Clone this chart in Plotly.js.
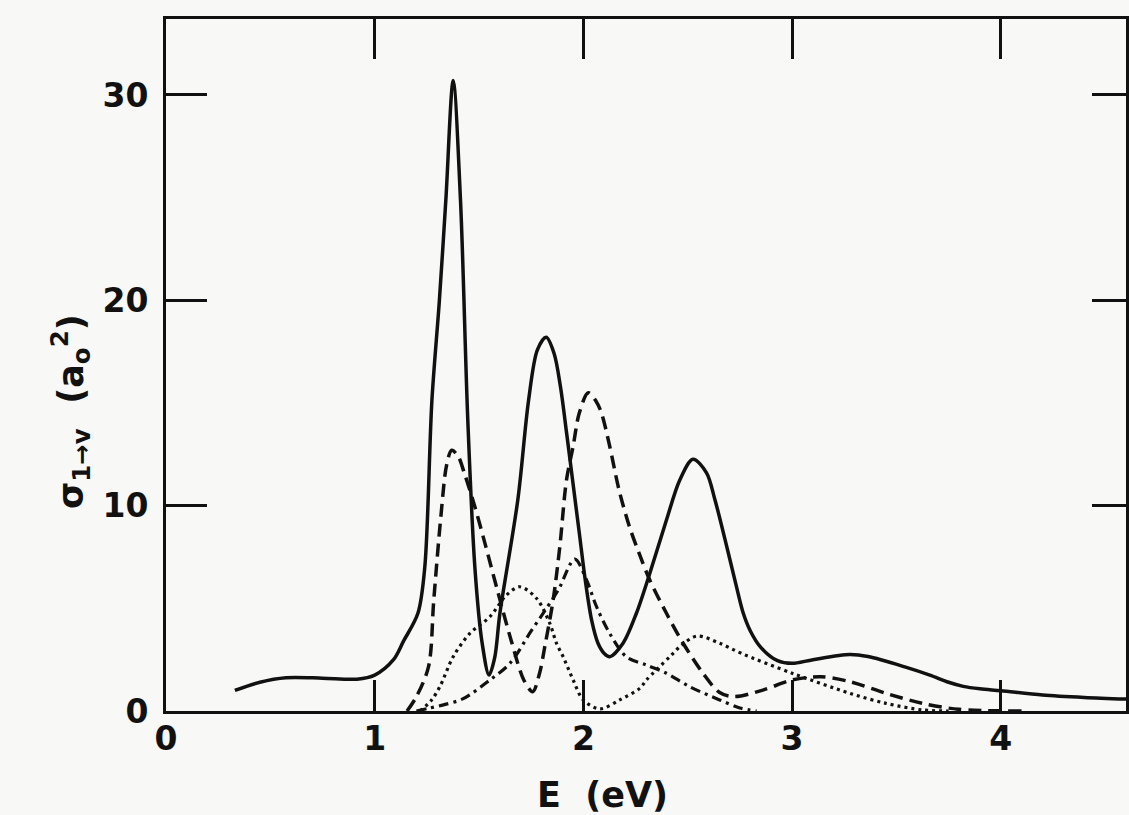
<!DOCTYPE html>
<html>
<head>
<meta charset="utf-8">
<script src="https://cdn.plot.ly/plotly-3.0.1.min.js"></script>
<style>html,body{margin:0;padding:0;background:#f8f8f6;}#chart{width:1129px;height:815px;}</style>
</head>
<body>
<div id="chart"></div>
<script>
// Energy (eV) and cross sections sigma_{1->v} (a0^2)
const solidE = [0.33,0.45,0.575,0.75,0.915,1.0,1.09,1.138,1.207,1.24,1.274,1.31,1.341,1.376,1.411,1.446,1.48,1.515,1.548,1.575,1.6,1.686,1.737,1.78,1.822,1.86,1.89,1.92,1.95,1.98,2.01,2.04,2.07,2.1,2.126,2.19,2.254,2.318,2.398,2.462,2.525,2.59,2.63,2.68,2.73,2.765,2.8,2.85,2.93,3.0,3.1,3.277,3.364,3.54,3.66,3.75,3.82,3.9,4.0,4.2,4.4,4.6];
const solidS = [1.0,1.4,1.62,1.6,1.55,1.75,2.5,3.4,4.76,7.0,15.1,20.0,24.9,30.7,24.9,14.2,7.0,3.3,1.75,2.6,4.76,10.3,15.1,17.6,18.2,17.4,15.8,13.5,11.1,8.7,6.3,4.4,3.3,2.8,2.64,3.3,4.76,6.7,9.3,11.25,12.26,11.6,10.3,8.3,6.2,4.8,3.9,3.1,2.45,2.32,2.5,2.75,2.65,2.15,1.75,1.4,1.2,1.08,0.99,0.78,0.66,0.58];

const dashE = [1.155,1.2,1.258,1.283,1.317,1.345,1.369,1.4,1.429,1.48,1.53,1.59,1.655,1.715,1.757,1.79,1.815,1.855,1.887,1.919,1.951,1.98,2.023,2.06,2.087,2.126,2.17,2.22,2.27,2.318,2.398,2.478,2.573,2.653,2.72,2.86,3.0,3.138,3.277,3.45,3.625,3.8,4.1];
const dashS = [0.0,0.7,2.16,5.4,9.46,12.0,12.7,12.4,11.6,9.95,8.1,5.8,3.4,1.5,0.94,1.84,3.13,5.4,8.0,11.25,12.9,14.5,15.5,15.1,14.5,12.9,10.8,9.0,7.6,6.38,4.76,3.3,1.84,0.9,0.7,1.02,1.51,1.67,1.43,0.86,0.37,0.08,0.0];

const dotE = [1.217,1.27,1.312,1.376,1.456,1.552,1.632,1.695,1.775,1.839,1.871,1.903,1.951,1.999,2.079,2.174,2.27,2.302,2.414,2.47,2.545,2.653,2.756,3.0,3.277,3.45,3.625,3.75];
const dotS = [0.0,0.5,1.18,2.64,3.78,4.59,5.65,6.05,5.49,4.27,3.3,2.64,1.51,0.54,0.1,0.54,1.1,1.51,2.64,3.2,3.65,3.3,2.81,1.84,0.86,0.37,0.05,0.0];

const dashDotE = [1.2,1.258,1.33,1.424,1.552,1.648,1.75,1.81,1.88,1.959,2.015,2.063,2.126,2.206,2.302,2.398,2.51,2.653,2.75,2.83];
const dashDotS = [0.0,0.13,0.3,0.6,1.51,2.32,3.9,4.8,5.9,7.4,6.38,5.08,3.78,2.64,2.24,1.84,1.18,0.54,0.15,0.0];

const xTicks = [0,1,2,3,4];
const yTicks = [0,10,20,30];

const FONT = 'DejaVu Sans, sans-serif';
const INK = '#111';
const line = (x, y, dash, w) => ({
  x: x, y: y, type: 'scatter', mode: 'lines', showlegend: false, hoverinfo: 'skip',
  line: {color: INK, width: w, dash: dash, shape: 'spline', smoothing: 0.9}
});

const traces = [
  line(solidE, solidS, 'solid', 3.5),
  line(dashE, dashS, '13px,7px', 3.5),
  line(dotE, dotS, '3px,4px', 3.2),
  line(dashDotE, dashDotS, '10px,5px,3px,5px', 3.2),
  {x: [], y: [], xaxis: 'x2', yaxis: 'y2', type: 'scatter', showlegend: false}
];

const axisCommon = {
  showgrid: false, zeroline: false, showline: true, linecolor: INK, linewidth: 3,
  ticks: 'inside', tickcolor: INK, tickwidth: 3
};

const tickFont = {size: 33, family: FONT, color: INK, weight: 'bold'};

const layout = {
  width: 1129, height: 815,
  margin: {l: 166, r: 3, t: 19, b: 104},
  paper_bgcolor: '#f8f8f6', plot_bgcolor: '#f8f8f6',
  font: {family: FONT, color: INK},
  xaxis: Object.assign({}, axisCommon, {
    range: [0, 4.6], tickmode: 'array', tickvals: xTicks, ticktext: xTicks.map(String),
    ticklen: 31, tickfont: tickFont, ticklabelstandoff: -4
  }),
  yaxis: Object.assign({}, axisCommon, {
    range: [0, 33.7], tickmode: 'array', tickvals: yTicks, ticktext: yTicks.map(String),
    ticklen: 41, tickfont: tickFont, ticklabelstandoff: 8
  }),
  xaxis2: Object.assign({}, axisCommon, {
    overlaying: 'x', side: 'top', anchor: 'y2', range: [0, 4.6],
    tickmode: 'array', tickvals: [1,2,3,4], ticklen: 40, showticklabels: false
  }),
  yaxis2: Object.assign({}, axisCommon, {
    overlaying: 'y', side: 'right', anchor: 'x2', range: [0, 33.7],
    tickmode: 'array', tickvals: [10,20,30], ticklen: 34, showticklabels: false
  }),
  annotations: [
    {text: 'E&nbsp;&nbsp;(eV)', xref: 'paper', yref: 'paper', x: (602-166)/960, y: -(795-711)/692,
     xanchor: 'center', yanchor: 'middle', showarrow: false,
     font: {size: 35, family: FONT, color: INK, weight: 'bold'}},
    {text: 'σ<sub>1→v</sub>&nbsp;&nbsp;(a<sub>o</sub><sup>2</sup>)', xref: 'paper', yref: 'paper',
     x: -(166-70)/960, y: (711-412)/692, xanchor: 'center', yanchor: 'middle', textangle: -90,
     showarrow: false, font: {size: 35, family: FONT, color: INK, weight: 'bold'}}
  ]
};

Plotly.newPlot('chart', traces, layout, {staticPlot: true, displayModeBar: false});
</script>
</body>
</html>
